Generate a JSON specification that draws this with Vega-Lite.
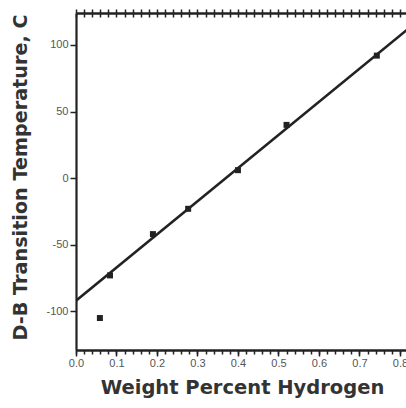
{
  "$schema": "https://vega.github.io/schema/vega-lite/v6.json",
  "width": 332,
  "height": 337,
  "autosize": "none",
  "padding": {"left": 76, "top": 13, "right": 0, "bottom": 58},
  "background": "white",
  "config": {
    "view": {"stroke": null},
    "axis": {
      "domainColor": "#222",
      "domainWidth": 2.2,
      "tickColor": "#222",
      "tickWidth": 1.5,
      "grid": false,
      "labelFont": "Liberation Sans",
      "labelFontSize": 11,
      "labelColor": "#555",
      "titleFont": "DejaVu Sans",
      "titleFontWeight": "bold",
      "titleColor": "#333"
    }
  },
  "datasets": {
    "fit": [
      {"w": 0.0, "t": -92},
      {"w": 0.82, "t": 112}
    ],
    "obs": [
      {"w": 0.059, "t": -105},
      {"w": 0.084, "t": -73},
      {"w": 0.19, "t": -42},
      {"w": 0.277, "t": -23},
      {"w": 0.40, "t": 6},
      {"w": 0.52, "t": 40},
      {"w": 0.743, "t": 92}
    ]
  },
  "layer": [
    {
      "data": {"name": "fit"},
      "mark": {"type": "line", "color": "#222", "strokeWidth": 2.5, "clip": true},
      "encoding": {
        "x": {
          "field": "w", "type": "quantitative",
          "scale": {"domain": [0, 0.82], "nice": false, "zero": false},
          "axis": {
            "orient": "bottom",
            "values": [0, 0.1, 0.2, 0.3, 0.4, 0.5, 0.6, 0.7, 0.8],
            "format": ".1f",
            "tickSize": 6,
            "labelPadding": 1,
            "labelFlush": false,
            "title": "Weight Percent Hydrogen",
            "titleFontSize": 19.5,
            "titlePadding": 10
          }
        },
        "y": {
          "field": "t", "type": "quantitative",
          "scale": {"domain": [-129, 124], "nice": false, "zero": false},
          "axis": {
            "orient": "left",
            "values": [-100, -50, 0, 50, 100],
            "labelExpr": "datum.value",
            "tickSize": 6,
            "labelPadding": 2,
            "labelFlush": false,
            "title": "D-B Transition Temperature, C",
            "titleFontSize": 19.2,
            "titleX": -56,
            "titleY": 164,
            "titleAlign": "center",
            "titleBaseline": "middle"
          }
        }
      }
    },
    {
      "data": {"name": "obs"},
      "mark": {"type": "square", "filled": true, "color": "#222", "size": 36, "opacity": 1},
      "encoding": {
        "x": {
          "field": "w", "type": "quantitative",
          "axis": {
            "orient": "bottom",
            "values": [0, 0.02, 0.04, 0.06, 0.08, 0.1, 0.12, 0.14, 0.16, 0.18, 0.2, 0.22, 0.24, 0.26, 0.28, 0.3, 0.32, 0.34, 0.36, 0.38, 0.4, 0.42, 0.44, 0.46, 0.48, 0.5, 0.52, 0.54, 0.56, 0.58, 0.6, 0.62, 0.64, 0.66, 0.68, 0.7, 0.72, 0.74, 0.76, 0.78, 0.8, 0.82],
            "labels": false,
            "tickSize": 4,
            "title": null
          }
        },
        "y": {"field": "t", "type": "quantitative", "axis": null}
      }
    },
    {
      "data": {"name": "obs"},
      "mark": {"type": "square", "opacity": 0},
      "encoding": {
        "x": {
          "field": "w", "type": "quantitative",
          "axis": {
            "orient": "top",
            "values": [0, 0.02, 0.04, 0.06, 0.08, 0.1, 0.12, 0.14, 0.16, 0.18, 0.2, 0.22, 0.24, 0.26, 0.28, 0.3, 0.32, 0.34, 0.36, 0.38, 0.4, 0.42, 0.44, 0.46, 0.48, 0.5, 0.52, 0.54, 0.56, 0.58, 0.6, 0.62, 0.64, 0.66, 0.68, 0.7, 0.72, 0.74, 0.76, 0.78, 0.8, 0.82],
            "labels": false,
            "tickSize": 4,
            "title": null
          }
        },
        "y": {"field": "t", "type": "quantitative", "axis": null}
      }
    },
    {
      "data": {"name": "obs"},
      "mark": {"type": "square", "opacity": 0},
      "encoding": {
        "x": {
          "field": "w", "type": "quantitative",
          "axis": {
            "orient": "top",
            "values": [0, 0.02, 0.04, 0.06, 0.08, 0.1, 0.12, 0.14, 0.16, 0.18, 0.2, 0.22, 0.24, 0.26, 0.28, 0.3, 0.32, 0.34, 0.36, 0.38, 0.4, 0.42, 0.44, 0.46, 0.48, 0.5, 0.52, 0.54, 0.56, 0.58, 0.6, 0.62, 0.64, 0.66, 0.68, 0.7, 0.72, 0.74, 0.76, 0.78, 0.8, 0.82],
            "labels": false,
            "tickSize": -4,
            "title": null
          }
        },
        "y": {"field": "t", "type": "quantitative", "axis": null}
      }
    }
  ],
  "resolve": {"axis": {"x": "independent", "y": "independent"}}
}
